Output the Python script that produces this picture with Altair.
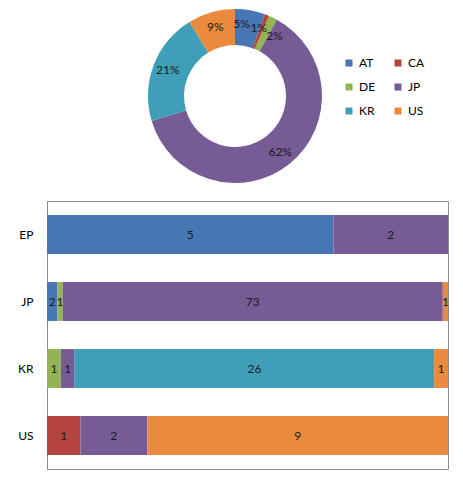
import altair as alt
import pandas as pd

countries = ["AT", "CA", "DE", "JP", "KR", "US"]
colors = ["#4676B4", "#B5443F", "#92B453", "#765B95", "#3F9FB8", "#E98A3E"]
offices = ["EP", "JP", "KR", "US"]
# counts per office, in the order of `countries`
ep_counts = [5, 0, 0, 2, 0, 0]
jp_counts = [2, 0, 1, 73, 0, 1]
kr_counts = [0, 0, 1, 1, 26, 1]
us_counts = [0, 1, 0, 2, 0, 9]
donut_labels = ["5%", "1%", "2%", "62%", "21%", "9%"]

office_counts = {"EP": ep_counts, "JP": jp_counts, "KR": kr_counts, "US": us_counts}
FONT = "Lato"

# ---------- donut data ----------
totals = [sum(office_counts[o][i] for o in offices) for i in range(len(countries))]
grand = sum(totals)
mids = []
acc = 0
for v in totals:
    mids.append(acc + v / 2)
    acc += v
# simple label collision avoidance (spread crowded labels apart, keeping first near start)
min_gap = grand * 14 / 360
lab = list(mids)
for _ in range(200):
    for i in range(1, len(lab)):
        d = lab[i] - lab[i - 1]
        if d < min_gap:
            push = (min_gap - d) / 2
            lab[i - 1] = max(0, lab[i - 1] - push)
            lab[i] += push
donut_df = pd.DataFrame({
    "country": countries,
    "value": totals,
    "order": list(range(len(countries))),
    "label": donut_labels,
    "label_theta": lab,
})

color_scale = alt.Scale(domain=countries, range=colors)
legend = alt.Legend(
    title=None, orient="none", legendX=296, legendY=48, columns=2, direction="horizontal",
    symbolType="square", symbolSize=49, symbolStrokeWidth=0,
    labelFontSize=12, labelFont=FONT, labelColor="#000000",
    labelOffset=4, columnPadding=16, rowPadding=12, padding=0,
)
theta_scale = alt.Scale(domain=[0, grand])

arcs = alt.Chart(donut_df).mark_arc(innerRadius=51, outerRadius=87).encode(
    theta=alt.Theta("value:Q", stack=True, scale=theta_scale),
    color=alt.Color("country:N", scale=color_scale, legend=legend),
    order=alt.Order("order:Q"),
)
arc_text = alt.Chart(donut_df).mark_text(radius=72, fontSize=12, font=FONT, color="#1b1b1b").encode(
    theta=alt.Theta("label_theta:Q", stack=None, scale=theta_scale),
    text="label:N",
)
donut = alt.layer(arcs, arc_text).properties(
    width=376, height=174, view=alt.ViewBackground(stroke="transparent")
)

# ---------- bar data ----------
rows = []
for o in offices:
    for i, c in enumerate(countries):
        v = office_counts[o][i]
        if v > 0:
            rows.append({"office": o, "country": c, "value": v, "order": i})
bar_df = pd.DataFrame(rows)

base = alt.Chart(bar_df).transform_stack(
    stack="value", groupby=["office"], as_=["x0", "x1"], offset="normalize",
    sort=[alt.SortField("order", order="ascending")],
).transform_calculate(xm="(datum.x0 + datum.x1) / 2")

xscale = alt.Scale(domain=[0, 1], nice=False)
yscale = alt.Scale(paddingInner=0.42, paddingOuter=0.21)
yaxis = alt.Axis(
    title=None, ticks=False, labelPadding=14, labelFontSize=12, labelFont=FONT,
    labelColor="#000000", domainColor="#8c8c8c", minExtent=38, maxExtent=38, grid=False,
)

bars = base.mark_bar().encode(
    x=alt.X("x0:Q", scale=xscale, axis=None),
    x2="x1:Q",
    y=alt.Y("office:N", sort=offices, scale=yscale, axis=yaxis),
    color=alt.Color("country:N", scale=color_scale, legend=legend),
)
bar_text = base.mark_text(fontSize=12, font=FONT, color="#1b1b1b").encode(
    x=alt.X("xm:Q", scale=xscale, axis=None),
    y=alt.Y("office:N", sort=offices, scale=yscale, axis=yaxis),
    text="value:Q",
)
barchart = alt.layer(bars, bar_text).properties(
    width=401, height=268, view=alt.ViewBackground(stroke="#8c8c8c", strokeWidth=1)
)

chart = alt.vconcat(donut, barchart, spacing=16).properties(
    padding=0, background="white"
).configure_view(strokeWidth=1)

chart.save("out.html", embed_options={"renderer": "svg", "actions": False})
